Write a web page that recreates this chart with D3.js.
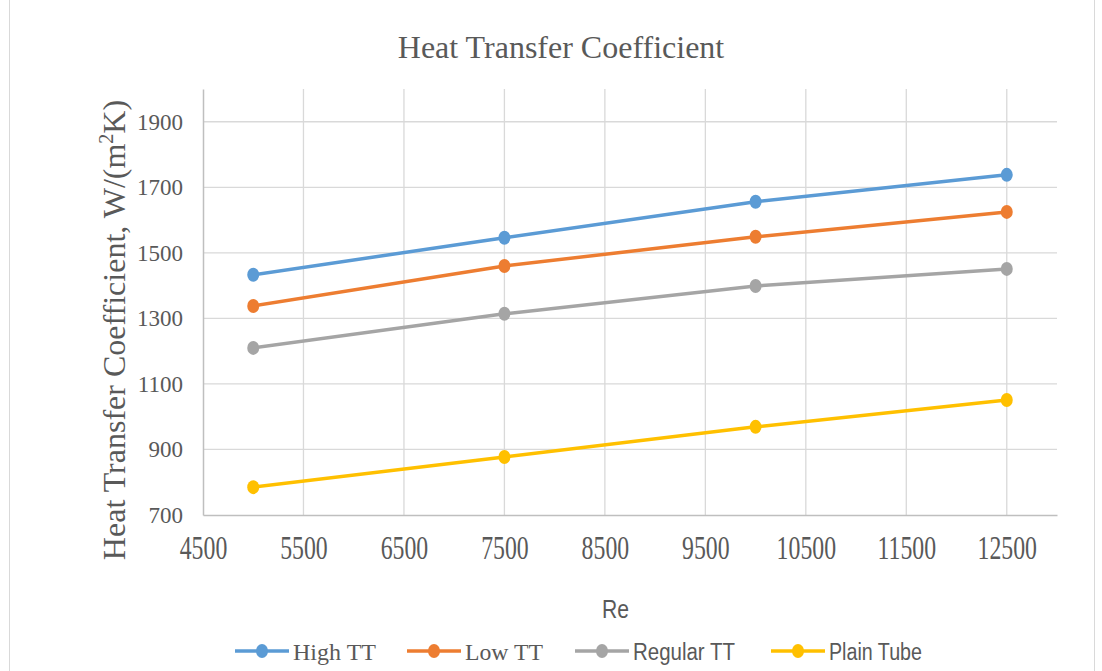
<!DOCTYPE html>
<html>
<head>
<meta charset="utf-8">
<script src="https://cdn.jsdelivr.net/npm/d3@7"></script>
<style>
  body { margin: 0; background: #fff; }
  svg { display: block; }
</style>
</head>
<body>
<div id="chart"></div>
<script>
// data
const reValues = [5000, 7500, 10000, 12500];
const highTT = [1433, 1546, 1656, 1738];
const lowTT = [1338, 1460, 1549, 1625];
const regularTT = [1210, 1314, 1399, 1451];
const plainTube = [785, 877, 969, 1051];
const seriesNames = ["High TT", "Low TT", "Regular TT", "Plain Tube"];
const seriesColors = ["#5B9BD5", "#ED7D31", "#A5A5A5", "#FFC000"];
const xTicks = [4500, 5500, 6500, 7500, 8500, 9500, 10500, 11500, 12500];
const yTicks = [700, 900, 1100, 1300, 1500, 1700, 1900];

const width = 1102;
const height = 671;
const margin = { top: 89, right: 45, bottom: 156, left: 203 };

const svg = d3.select("#chart")
  .append("svg")
  .attr("width", width)
  .attr("height", height);

// chart border
svg.append("rect")
  .attr("x", 9.5).attr("y", -1)
  .attr("width", 1085).attr("height", 690)
  .attr("fill", "none")
  .attr("stroke", "#d9d9d9");

const x = d3.scaleLinear().domain([4500, 13000]).range([margin.left, width - margin.right]);
const y = d3.scaleLinear().domain([700, 2000]).range([height - margin.bottom, margin.top]);

// gridlines
svg.append("g")
  .selectAll("line")
  .data(yTicks.slice(1))
  .enter()
  .append("line")
  .attr("x1", x(4500)).attr("x2", x(13000))
  .attr("y1", (d) => y(d)).attr("y2", (d) => y(d))
  .attr("stroke", "#d9d9d9").attr("stroke-width", 1.3);

svg.append("g")
  .selectAll("line")
  .data(xTicks.slice(1))
  .enter()
  .append("line")
  .attr("y1", y(700)).attr("y2", y(2000))
  .attr("x1", (d) => x(d)).attr("x2", (d) => x(d))
  .attr("stroke", "#d9d9d9").attr("stroke-width", 1.3);

// axes
const xAxis = svg.append("g")
  .attr("transform", `translate(0,${y(700)})`)
  .call(d3.axisBottom(x).tickValues(xTicks).tickSize(0).tickFormat(d3.format("d")));
xAxis.select(".domain").attr("stroke", "#bfbfbf").attr("stroke-width", 1.5);
xAxis.selectAll("text")
  .attr("font-family", "Liberation Serif")
  .attr("font-size", 34)
  .attr("fill", "#595959")
  .attr("y", 44)
  .attr("dy", 0)
  .attr("transform", "scale(0.7,1)");

const yAxis = svg.append("g")
  .attr("transform", `translate(${x(4500)},0)`)
  .call(d3.axisLeft(y).tickValues(yTicks).tickSize(0).tickPadding(20).tickFormat(d3.format("d")));
yAxis.select(".domain").attr("stroke", "#bfbfbf").attr("stroke-width", 1.5);
yAxis.selectAll("text")
  .attr("font-family", "Liberation Serif")
  .attr("font-size", 23)
  .attr("fill", "#595959");

// title
svg.append("text")
  .attr("x", 561).attr("y", 58)
  .attr("text-anchor", "middle")
  .attr("font-family", "Liberation Serif")
  .attr("font-size", 32)
  .attr("fill", "#595959")
  .text("Heat Transfer Coefficient");

// y title
const yTitle = svg.append("text")
  .attr("transform", "translate(125,330) rotate(-90)")
  .attr("text-anchor", "middle")
  .attr("font-family", "Liberation Serif")
  .attr("font-size", 32)
  .attr("fill", "#595959");
yTitle.append("tspan").text("Heat Transfer Coefficient,  W/(m");
yTitle.append("tspan").attr("font-size", 20).attr("dy", -12).text("2");
yTitle.append("tspan").attr("dy", 12).text("K)");

// x title
svg.append("text")
  .attr("x", 602).attr("y", 618)
  .attr("font-family", "Liberation Sans")
  .attr("font-size", 25)
  .attr("fill", "#595959")
  .attr("textLength", 27)
  .attr("lengthAdjust", "spacingAndGlyphs")
  .text("Re");

// series
const allSeries = [highTT, lowTT, regularTT, plainTube].map((vals, i) => ({
  name: seriesNames[i],
  color: seriesColors[i],
  points: vals.map((v, j) => ({ re: reValues[j], h: v }))
}));

const line = d3.line().x((d) => x(d.re)).y((d) => y(d.h));

const seriesG = svg.append("g")
  .selectAll("g")
  .data(allSeries)
  .enter()
  .append("g");

seriesG.append("path")
  .attr("d", (d) => line(d.points))
  .attr("fill", "none")
  .attr("stroke", (d) => d.color)
  .attr("stroke-width", 3.5);

seriesG.selectAll("ellipse")
  .data((d) => d.points.map((p) => ({ ...p, color: d.color })))
  .enter()
  .append("ellipse")
  .attr("cx", (d) => x(d.re))
  .attr("cy", (d) => y(d.h))
  .attr("rx", 6)
  .attr("ry", 7)
  .attr("fill", (d) => d.color);

// legend
const legendX = [235, 407, 575, 771];
const legendTextW = [83, 78, 102, 93];
const legend = svg.append("g")
  .selectAll("g")
  .data(allSeries)
  .enter()
  .append("g")
  .attr("transform", (d, i) => `translate(${legendX[i]},651)`);

legend.append("line")
  .attr("x1", 0).attr("x2", 54)
  .attr("stroke", (d) => d.color)
  .attr("stroke-width", 3.5);
legend.append("ellipse")
  .attr("cx", 27).attr("rx", 6).attr("ry", 7)
  .attr("fill", (d) => d.color);
legend.append("text")
  .attr("x", 58).attr("y", 9)
  .attr("font-family", (d, i) => (i < 2 ? "Liberation Serif" : "Liberation Sans"))
  .attr("font-size", (d, i) => (i < 2 ? 24 : 23))
  .attr("fill", "#595959")
  .attr("textLength", (d, i) => legendTextW[i])
  .attr("lengthAdjust", "spacingAndGlyphs")
  .text((d) => d.name);
</script>
</body>
</html>
